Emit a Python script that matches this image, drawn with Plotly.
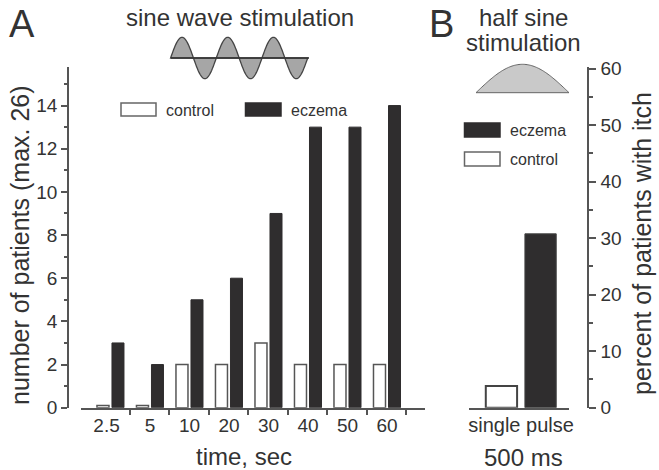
import math
import plotly.graph_objects as go

W, H = 659, 470

time_labels = ["2.5", "5", "10", "20", "30", "40", "50", "60"]
control_a = [0.1, 0.1, 2, 2, 3, 2, 2, 2]
eczema_a = [3, 2, 5, 6, 9, 13, 13, 14]
pulse_labels = ["single pulse"]
control_b = [3.85]
eczema_b = [30.77]

DARK = "#2f2d2e"
TXT = "#333333"
AX = "#555555"
FONT = "Liberation Sans, Arial, sans-serif"


def px(x):
    return x / W


def py(y):
    return 1 - y / H


fig = go.Figure()
idx = list(range(len(time_labels)))
fig.add_bar(x=idx, y=control_a, marker=dict(color="white", line=dict(color=AX, width=1.5)),
            xaxis="x", yaxis="y", offsetgroup="c", name="control")
fig.add_bar(x=idx, y=eczema_a, marker=dict(color=DARK, line=dict(color=DARK, width=1)),
            xaxis="x", yaxis="y", offsetgroup="e", name="eczema")
fig.add_bar(x=pulse_labels, y=control_b, marker=dict(color="white", line=dict(color="#444444", width=2)),
            xaxis="x2", yaxis="y2", offsetgroup="c2", name="control")
fig.add_bar(x=pulse_labels, y=eczema_b, marker=dict(color=DARK, line=dict(color="#444444", width=1)),
            xaxis="x2", yaxis="y2", offsetgroup="e2", name="eczema")


def rect(x0, y0, x1, y1, fill, line):
    fig.add_shape(type="rect", xref="paper", yref="paper", x0=px(x0), x1=px(x1), y0=py(y0), y1=py(y1),
                  fillcolor=fill, line=dict(color=line, width=1.5), layer="above")


def path_shape(pts, fill, line, width, close=True):
    d = "M " + " L ".join(f"{px(a):.5f} {py(b):.5f}" for a, b in pts) + (" Z" if close else "")
    fig.add_shape(type="path", xref="paper", yref="paper", path=d, fillcolor=fill,
                  line=dict(color=line, width=width), layer="above")


def txt(s, x, y, size, anchor="center", angle=0):
    fig.add_annotation(text=s, xref="paper", yref="paper", x=px(x), y=py(y), showarrow=False,
                       xanchor=anchor, yanchor="middle", textangle=angle,
                       font=dict(size=size, color=TXT, family=FONT))


# decorative stimulus glyphs
x0w, x1w, mid, amp = 170.6, 307.7, 58.0, 20.7
wave = [(x0w + (x1w - x0w) * i / 180, mid - amp * math.sin(2 * math.pi * 3 * i / 180)) for i in range(181)]
path_shape(wave, "#a6a6a6", "#444444", 1.3)
path_shape([(171, mid), (309, mid)], None, "#333333", 1.5, close=False)
half = [(476 + 93 * i / 80, 92.7 - 28.4 * math.sin(math.pi * i / 80)) for i in range(81)]
path_shape(half, "#c9c9c9", "#666666", 1)

# hand-placed keys
rect(121, 103, 156, 116, "white", "#666666")
rect(245.5, 103, 281, 116, DARK, DARK)
rect(464.5, 123, 500, 137, DARK, DARK)
rect(464.5, 152, 500, 166, "white", "#666666")
txt("control", 164, 110, 16, "left")
txt("eczema", 289, 110, 16, "left")
txt("eczema", 508, 130, 16, "left")
txt("control", 508, 159, 16, "left")

txt("A", 22, 24, 38)
txt("B", 441, 24, 38)
txt("sine wave stimulation", 240, 17, 24)
txt("half sine", 523, 17, 24)
txt("stimulation", 523, 43, 24)
txt("time, sec", 244, 456, 24)
txt("500 ms", 523, 457, 24)
txt("number of patients (max. 26)", 20, 245, 25, angle=-90)
txt("percent of patients with itch", 642, 244, 25, angle=-90)

label_pos = [-0.1, 1, 2, 3, 4, 5, 6, 7]
boundaries = [i + 0.482 for i in range(8)]
yfont = dict(size=19, color=TXT, family=FONT)
dom_y = [py(407.7), py(66.7)]

fig.update_layout(
    width=W, height=H, autosize=False, margin=dict(l=0, r=0, t=0, b=0, pad=0),
    paper_bgcolor="white", plot_bgcolor="rgba(0,0,0,0)", showlegend=False,
    barmode="group", bargap=0.24, bargroupgap=0.2,
    font=dict(family=FONT, color=TXT),
    xaxis=dict(domain=[px(81), px(425)], range=[-0.746, 7.962], anchor="y", automargin=False,
               tickmode="array", tickvals=label_pos, ticktext=time_labels, ticks="",
               ticklabelstandoff=0, tickfont=yfont, showgrid=False, zeroline=False,
               showline=True, linecolor=AX, linewidth=1.5,
               minor=dict(tickmode="array", tickvals=boundaries, ticks="outside", ticklen=6,
                          tickwidth=1.5, tickcolor=AX, showgrid=False)),
    yaxis=dict(domain=dom_y, range=[0, 15.8], anchor="free", position=px(68), side="left", automargin=False,
               dtick=2, tick0=0, ticks="outside", ticklen=6, tickwidth=1.5, tickcolor=AX,
               tickfont=yfont, showgrid=False, zeroline=False, showline=True, linecolor=AX, linewidth=1.5,
               minor=dict(dtick=1, ticks="outside", ticklen=3, tickwidth=1.5, tickcolor=AX, showgrid=False)),
    xaxis2=dict(domain=[px(469), px(569)], range=[-0.505, 0.466], anchor="y2", type="category", automargin=False,
                ticks="", ticklabelstandoff=-1, tickfont=dict(size=20, color=TXT, family=FONT),
                showgrid=False, zeroline=False, showline=True, linecolor=AX, linewidth=1.5),
    yaxis2=dict(domain=dom_y, range=[0, 60.35], anchor="free", position=px(588), side="right", automargin=False,
                dtick=10, tick0=0, ticks="outside", ticklen=7, tickwidth=1.5, tickcolor=AX,
                ticklabelstandoff=1, tickfont=yfont, showgrid=False, zeroline=False, showline=True,
                linecolor=AX, linewidth=1.5,
                minor=dict(dtick=5, ticks="outside", ticklen=4, tickwidth=1.5, tickcolor=AX, showgrid=False)),
)

fig.write_html("out.html", config=dict(displayModeBar=False),
               post_script="document.body.style.margin='0';document.documentElement.style.overflow='hidden';")
